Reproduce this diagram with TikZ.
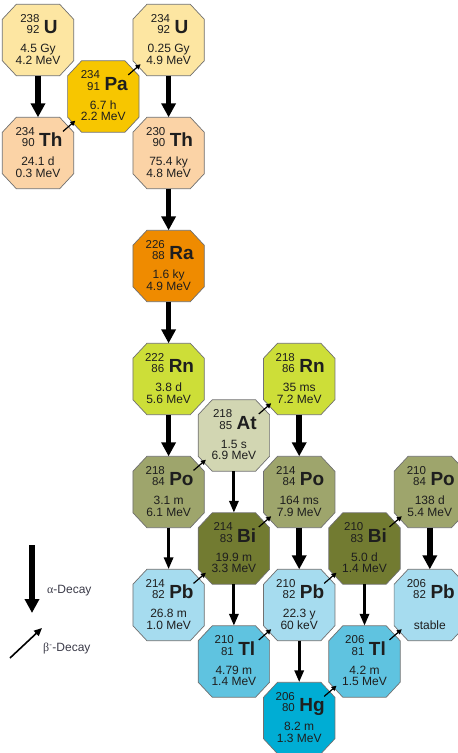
\documentclass[tikz,border=0pt]{standalone}
\usepackage{fontspec}
\setmainfont{Liberation Sans}
\newfontfamily\serifgr{Liberation Serif}
\usetikzlibrary{arrows.meta,calc}

\definecolor{cU}{HTML}{FDE6A2}
\definecolor{cTh}{HTML}{FBD3A6}
\definecolor{cPa}{HTML}{F7C600}
\definecolor{cRa}{HTML}{EF8B00}
\definecolor{cRn}{HTML}{CDDE38}
\definecolor{cAt}{HTML}{D2D6B2}
\definecolor{cPo}{HTML}{9EA56C}
\definecolor{cBi}{HTML}{727B31}
\definecolor{cPb}{HTML}{A6DCEF}
\definecolor{cTl}{HTML}{5FC3E0}
\definecolor{cHg}{HTML}{00ADD4}
\definecolor{octline}{HTML}{707070}
\definecolor{txt}{HTML}{1E1E1E}
\definecolor{legtxt}{HTML}{3A3A48}

\tikzset{
  oct/.style={rectangle, minimum width=71pt, minimum height=71pt, inner sep=0pt},
  octdraw/.style={draw=octline, line width=0.7pt},
  hdr/.style={anchor=base, inner sep=0pt, text=txt},
  info/.style={anchor=base, inner sep=0pt, text=txt, font=\fontsize{12}{12}\selectfont},
  alphaB/.style={line width=5.5pt, -{Triangle[width=14pt,length=14pt]}},
  alphaS/.style={line width=3pt, -{Triangle[width=9pt,length=12pt]}},
  betaA/.style={line width=1.2pt, -{Triangle[width=5pt,length=5pt]},
    shorten <=33pt, shorten >=37pt},
  betaL/.style={line width=1.6pt, -{Triangle[width=7pt,length=8pt]}},
  legend/.style={anchor=west, inner sep=0pt, text=legtxt, font=\fontsize{12}{12}\selectfont},
}

\newcommand\mkiso[9]{%
  \node[oct] (#1) at (#2,#3) {};
  \draw[octdraw, fill=#4]
    ($(#1.north west)+(14,0)$) -- ($(#1.north east)+(-14,0)$) --
    ($(#1.north east)+(0,15)$) -- ($(#1.south east)+(0,-15)$) --
    ($(#1.south east)+(-14,0)$) -- ($(#1.south west)+(14,0)$) --
    ($(#1.south west)+(0,-15)$) -- ($(#1.north west)+(0,15)$) -- cycle;
  \node[hdr] (#1h) at ($(#1.center)+(1,-6.5)$)
    {{\fontsize{11.5}{10}\selectfont\begin{tabular}[b]{@{}r@{}}#5\\#6\end{tabular}}\hspace{4.5pt}{\fontsize{19}{18}\selectfont\bfseries #7}};
  \node[info] (#1a) at ($(#1.center)+(0,12.5)$) {#8};
  \node[info] (#1b) at ($(#1.center)+(0,24)$) {#9};
}

\begin{document}
\begin{tikzpicture}[x=1pt,y=-1pt]
\useasboundingbox (0,0) rectangle (458,753);

\mkiso{U238}{38}{40}{cU}{238}{92}{U}{4.5 Gy}{4.2 MeV}
\mkiso{Th234}{38}{153}{cTh}{234}{90}{Th}{24.1 d}{0.3 MeV}
\mkiso{Pa234}{103.3}{96.5}{cPa}{234}{91}{Pa}{6.7 h}{2.2 MeV}
\mkiso{U234}{168.6}{40}{cU}{234}{92}{U}{0.25 Gy}{4.9 MeV}
\mkiso{Th230}{168.6}{153}{cTh}{230}{90}{Th}{75.4 ky}{4.8 MeV}
\mkiso{Ra226}{168.6}{266}{cRa}{226}{88}{Ra}{1.6 ky}{4.9 MeV}
\mkiso{Rn222}{168.6}{379}{cRn}{222}{86}{Rn}{3.8 d}{5.6 MeV}
\mkiso{Po218}{168.6}{492}{cPo}{218}{84}{Po}{3.1 m}{6.1 MeV}
\mkiso{Pb214}{168.6}{605}{cPb}{214}{82}{Pb}{26.8 m}{1.0 MeV}
\mkiso{At218}{233.9}{435.5}{cAt}{218}{85}{At}{1.5 s}{6.9 MeV}
\mkiso{Bi214}{233.9}{548.5}{cBi}{214}{83}{Bi}{19.9 m}{3.3 MeV}
\mkiso{Tl210}{233.9}{661.5}{cTl}{210}{81}{Tl}{4.79 m}{1.4 MeV}
\mkiso{Rn218}{299.2}{379}{cRn}{218}{86}{Rn}{35 ms}{7.2 MeV}
\mkiso{Po214}{299.2}{492}{cPo}{214}{84}{Po}{164 ms}{7.9 MeV}
\mkiso{Pb210}{299.2}{605}{cPb}{210}{82}{Pb}{22.3 y}{60 keV}
\mkiso{Hg206}{299.2}{718}{cHg}{206}{80}{Hg}{8.2 m}{1.3 MeV}
\mkiso{Bi210}{364.5}{548.5}{cBi}{210}{83}{Bi}{5.0 d}{1.4 MeV}
\mkiso{Tl206}{364.5}{661.5}{cTl}{206}{81}{Tl}{4.2 m}{1.5 MeV}
\mkiso{Po210}{429.8}{492}{cPo}{210}{84}{Po}{138 d}{5.4 MeV}
\mkiso{Pb206}{429.8}{605}{cPb}{206}{82}{Pb}{}{stable}

% alpha decays
\draw[alphaB] (U238.south) -- (Th234.north);
\draw[alphaB] (U234.south) -- (Th230.north);
\draw[alphaB] (Th230.south) -- (Ra226.north);
\draw[alphaB] (Ra226.south) -- (Rn222.north);
\draw[alphaB] (Rn222.south) -- (Po218.north);
\draw[alphaB] (Rn218.south) -- (Po214.north);
\draw[alphaB] (Po214.south) -- (Pb210.north);
\draw[alphaB] (Po210.south) -- (Pb206.north);
\draw[alphaS] (Po218.south) -- (Pb214.north);
\draw[alphaS] (At218.south) -- (Bi214.north);
\draw[alphaS] (Bi214.south) -- (Tl210.north);
\draw[alphaS] (Pb210.south) -- (Hg206.north);
\draw[alphaS] (Bi210.south) -- (Tl206.north);

% beta decays
\draw[betaA] (Th234.center) -- (Pa234.center);
\draw[betaA] (Pa234.center) -- (U234.center);
\draw[betaA] (Po218.center) -- (At218.center);
\draw[betaA] (At218.center) -- (Rn218.center);
\draw[betaA] (Pb214.center) -- (Bi214.center);
\draw[betaA] (Bi214.center) -- (Po214.center);
\draw[betaA] (Tl210.center) -- (Pb210.center);
\draw[betaA] (Pb210.center) -- (Bi210.center);
\draw[betaA] (Hg206.center) -- (Tl206.center);
\draw[betaA] (Bi210.center) -- (Po210.center);
\draw[betaA] (Tl206.center) -- (Pb206.center);

% legend
\coordinate (la1) at (32,545);
\coordinate (la2) at (32,613);
\draw[alphaB] (la1) -- (la2);
\node[legend] (lalpha) at (47,591) {{\serifgr α}-Decay};
\coordinate (lb1) at (10,658);
\coordinate (lb2) at (42,628);
\draw[betaL] (lb1) -- (lb2);
\node[legend] (lbeta) at (43,649) {{\serifgr β}\textsuperscript{-}-Decay};
\end{tikzpicture}
\end{document}
